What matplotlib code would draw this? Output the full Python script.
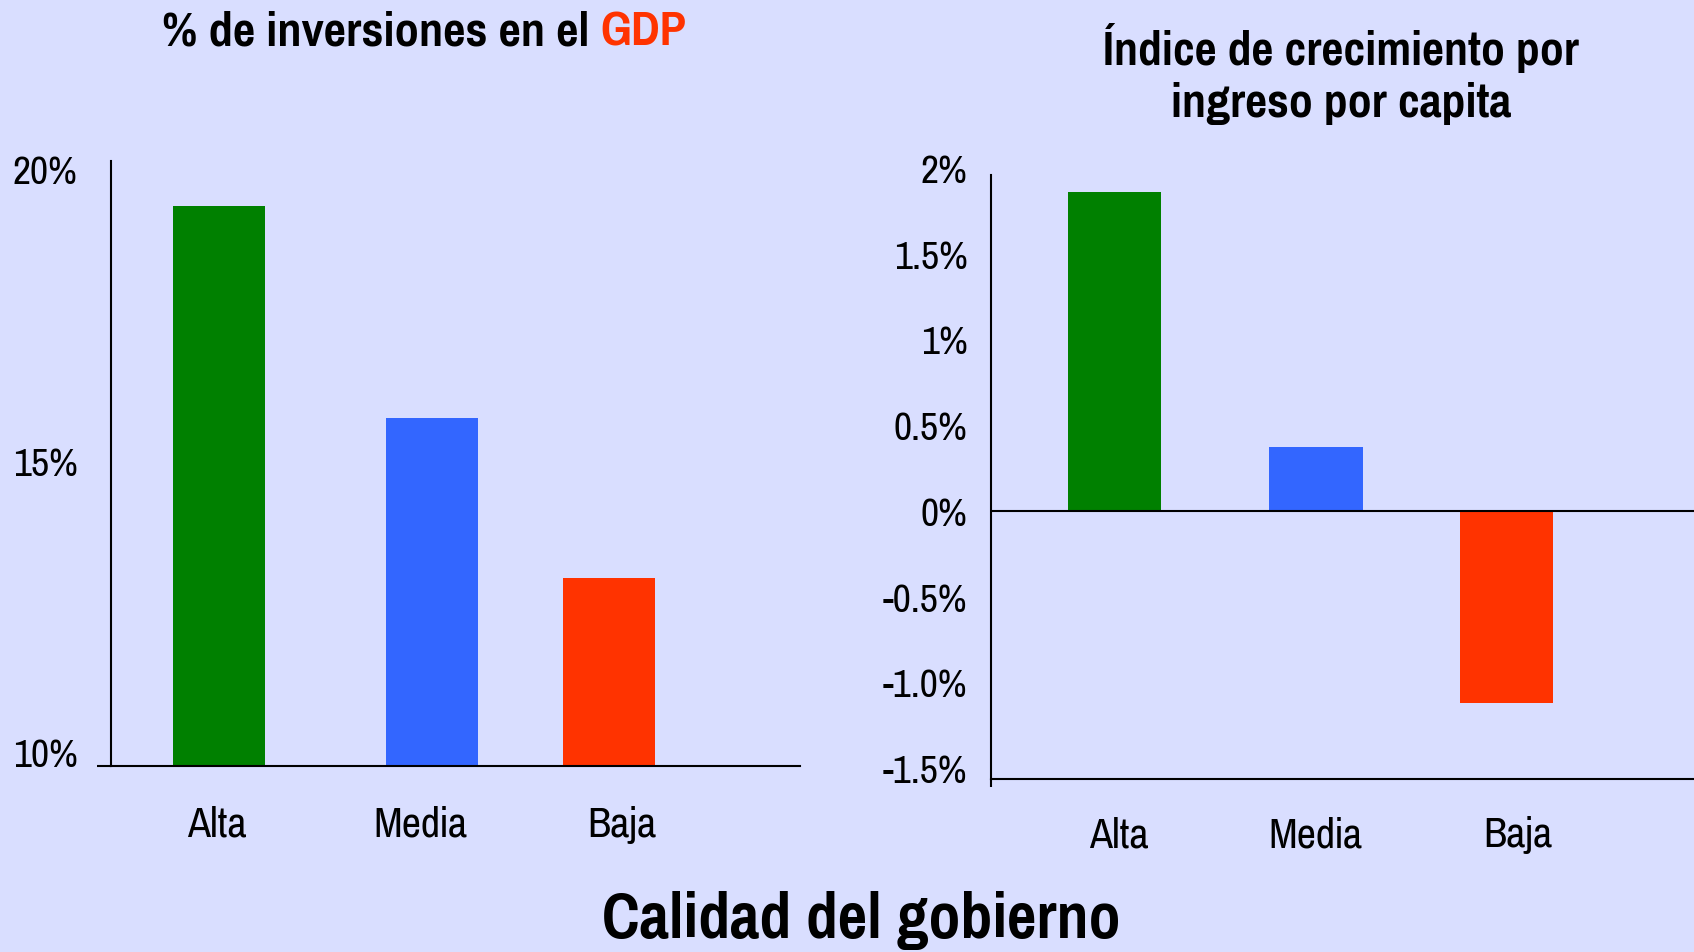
import matplotlib
matplotlib.use('Agg')
import matplotlib.pyplot as plt

plt.rcParams['font.family'] = ['Pragati Narrow', 'DejaVu Sans']

# datos
categorias = ['Alta', 'Media', 'Baja']
inversion_gdp = [19.37, 15.73, 12.98]      # % de inversiones en el GDP
crecimiento = [1.86, 0.37, -1.12]          # indice de crecimiento por ingreso por capita
colores = ['#008000', '#3366FF', '#FF3300']

ticks_izq = [10, 15, 20]
ticks_izq_txt = ['10%', '15%', '20%']
ticks_der = [-1.5, -1.0, -0.5, 0, 0.5, 1, 1.5, 2]
ticks_der_txt = ['-1.5%', '-1.0%', '-0.5%', '0%', '0.5%', '1%', '1.5%', '2%']

# layout
fondo = '#D9DEFF'
pos_izq = [0.157, 0.466, 0.723]
lab_izq = [0.154, 0.449, 0.742]
pos_der = [0.176, 0.462, 0.733]
lab_der = [0.182, 0.462, 0.750]
ancho = 0.133
base_izq = 9.76

fig = plt.figure(figsize=(16.94, 9.53), dpi=100, facecolor=fondo)

def estilo(ax):
	ax.set_facecolor(fondo)
	ax.spines['top'].set_visible(False)
	ax.spines['right'].set_visible(False)
	ax.spines['left'].set_linewidth(1.5)
	ax.spines['bottom'].set_linewidth(1.5)
	ax.tick_params(axis='both', which='major', length=0)
	ax.tick_params(axis='y', labelsize=31)
	ax.tick_params(axis='x', labelsize=33)

# grafico izquierdo
ax1 = fig.add_axes([111/1694, 1-767/953, 689/1694, 605/953])
estilo(ax1)
alturas = [v - base_izq for v in inversion_gdp]
ax1.bar(pos_izq, alturas, width=ancho, bottom=base_izq, color=colores)
ax1.set_xlim(0, 1)
ax1.set_ylim(base_izq, 20.14)
ax1.set_yticks(ticks_izq)
ax1.set_yticklabels(ticks_izq_txt)
ax1.set_yticks([base_izq], minor=True)
ax1.tick_params(axis='y', which='minor', length=10, width=1.5, direction='out')
ax1.set_xticks(lab_izq)
ax1.set_xticklabels(categorias)
ax1.tick_params(axis='x', pad=28)
ax1.tick_params(axis='y', pad=24)

t1 = fig.text(162/1694, 1-32/953, '% de inversiones en el ', fontsize=38,
	fontweight='bold', ha='left', va='center')
ax1.annotate('GDP', xy=(1, 0), xycoords=t1, va='bottom', ha='left',
	fontsize=38, fontweight='bold', color='#FF3300')

# grafico derecho
ax2 = fig.add_axes([991/1694, 1-780/953, 703/1694, 611/953])
estilo(ax2)
ax2.bar(pos_der, crecimiento, width=ancho, color=colores)
ax2.axhline(0, color='black', lw=1.5)
ax2.set_xlim(0, 1)
ax2.set_ylim(-1.564, 2.0)
ax2.spines['left'].set_bounds(-1.564, 1.96)
ax2.set_yticks(ticks_der)
ax2.set_yticklabels(ticks_der_txt)
ax2.set_xticks(lab_der)
ax2.set_xticklabels(categorias)
ax2.tick_params(axis='x', pad=26)
ax2.tick_params(axis='y', pad=17)
ax2.set_xticks([0], minor=True)
ax2.tick_params(axis='x', which='minor', length=6, width=1.5, direction='out')

fig.text(1341/1694, 1-74/953, 'Índice de crecimiento por\ningreso por capita',
	fontsize=37.5, fontweight='bold', ha='center', va='center', linespacing=1.25)

fig.text(861/1694, 1-921/953, 'Calidad del gobierno', fontsize=50,
	fontweight='bold', ha='center', va='center')

fig.savefig('out.png', dpi=100, facecolor=fondo)
